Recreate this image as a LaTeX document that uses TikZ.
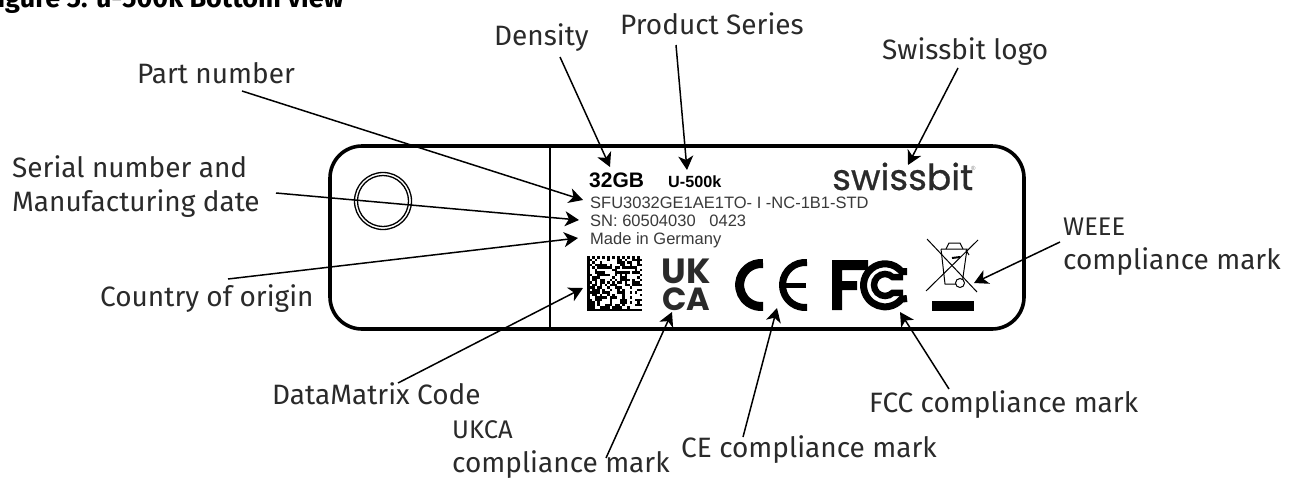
\documentclass[tikz,border=0pt]{standalone}
\usepackage{fontspec}
\setmainfont{Fira Sans}
\newfontfamily\labelfont{Liberation Sans}
\newfontfamily\logofont[FakeBold=0.6]{Poppins}
\newfontfamily\ukcafont{Poppins}
\usetikzlibrary{arrows.meta}
\definecolor{inkdark}{HTML}{2A2A2A}
\definecolor{inkprint}{HTML}{3A3A3A}
\tikzset{
  callout/.style={anchor=base west, inner sep=0pt, text=inkdark, font=\fontsize{28}{32}\selectfont},
  narrowcallout/.style={callout, font=\fontsize{25.5}{30}\selectfont},
  printed/.style={anchor=base west, inner sep=0pt, text=inkprint, font=\labelfont\fontsize{16.5}{19}\selectfont},
  pointer/.style={-{Stealth[length=14pt,width=15pt,inset=4pt]}, line width=1.5pt, black},
  binline/.style={line width=1pt, black}
}
\begin{document}
\begin{tikzpicture}[x=1pt,y=-1pt]
  \useasboundingbox (0,0) rectangle (1298,480);
  \fill[white] (0,0) rectangle (1298,480);
  % Caption
  \node[anchor=base west, inner sep=0pt, font=\bfseries\fontsize{27}{30}\selectfont] (caption) at (-15,7.5) {Figure 5: u-500k Bottom view};
  % Label outline
  \draw[line width=3.6pt, rounded corners=32pt] (330,146) rectangle (1024,329);
  \draw[line width=2pt] (550,146) -- (550,329);
  \draw[line width=1.3pt] (383,201) circle (28.5);
  \draw[line width=1.3pt] (383,201) circle (25.5);
  % Printed text
  \node[printed, font=\labelfont\bfseries\fontsize{21}{24}\selectfont, text=black] (density) at (589,187) {32GB};
  \node[printed, font=\labelfont\bfseries\fontsize{16.2}{19}\selectfont, text=black] (series) at (668,187) {U-500k};
  \node[printed] (partno) at (590,208) {SFU3032GE1AE1TO- I -NC-1B1-STD};
  \node[printed] (serial) at (590,226) {SN: 60504030\ \ \ 0423};
  \node[printed] (origin) at (590,244) {Made in Germany};
  \node[anchor=base west, inner sep=0pt, font=\logofont\fontsize{36}{40}\selectfont, text=inkdark] (logo) at (832,190) {swissbit};
  \node[anchor=base west, inner sep=0pt, font=\labelfont\fontsize{6}{7}\selectfont, text=gray] (regmark) at (971,170) {\textregistered};
  % DataMatrix
  \pgfmathsetseed{4231}
  \foreach \col in {0,...,21}
    \foreach \row in {0,...,21} {
      \pgfmathtruncatemacro\cell{(\col==0 || \row==21) ? 1 : (\row==0 ? mod(\col+1,2) : (\col==21 ? mod(\row,2) : (rnd>0.5 ? 1 : 0)))}
      \ifnum\cell=1
        \fill[black] (587+2.5*\col,256+2.5*\row) rectangle ++(2.5,2.5);
      \fi
    }
  % UKCA mark
  \node[anchor=base, inner sep=0pt, font=\ukcafont\bfseries\fontsize{35}{36}\selectfont, text=inkdark] (ukmark) at (686,283) {UK};
  \node[anchor=base, inner sep=0pt, font=\ukcafont\bfseries\fontsize{32}{34}\selectfont, text=inkdark] (camark) at (686,310) {CA};
  % CE mark
  \draw[line width=9pt] (763,263.6) arc[start angle=-85, end angle=-275, radius=21.5];
  \draw[line width=7pt] (807,262.6) arc[start angle=-85, end angle=-275, radius=22.5];
  \draw[line width=5pt] (785,285) -- (806,285);
  % FCC mark
  \fill[black] (832,260) -- (868,260) -- (868,270) -- (842,270) -- (842,281) -- (857,281) -- (857,290) -- (842,290) -- (842,310) -- (832,310) -- cycle;
  \draw[line width=7pt] (907,271.5) -- (901.5,271.5) arc[start angle=-40, end angle=-320, radius=21.5] -- (907,298.5);
  \draw[line width=6.5pt] (903,277.2) -- (892.8,277.2) arc[start angle=-45, end angle=-315, radius=11] -- (903,292.8);
  % WEEE mark
  \draw[binline] (941,249) -- (967,249) -- (962,284) -- (955,284);
  \draw[binline] (941,249) -- (945,284) -- (955,284);
  \draw[binline] (946,249) -- (949,243) -- (960,243) -- (963,249);
  \draw[binline] (966,250) -- (969,255);
  \draw[line width=2pt] (952,258) -- (960,257);
  \draw[binline, fill=white] (960,283) circle (4.5);
  \draw[binline] (927,239) -- (977,292);
  \draw[binline] (978,240) -- (926,291);
  \fill[black] (932,301) rectangle (974,311);
  % Callouts
  \node[callout] (lbldensity) at (494,45) {Density};
  \node[callout] (lblseries) at (620,34) {Product Series};
  \node[callout] (lbllogo) at (882,59) {Swissbit logo};
  \node[callout] (lblpart) at (137,83) {Part number};
  \node[callout] (lblserial) at (12,177) {Serial number and};
  \node[callout] (lbldate) at (12,211) {Manufacturing date};
  \node[callout] (lblorigin) at (100,306) {Country of origin};
  \node[callout] (lblmatrix) at (272,404) {DataMatrix Code};
  \node[narrowcallout] (lblukca) at (452,438) {UKCA};
  \node[callout] (lblukmark) at (452,472) {compliance mark};
  \node[callout] (lblce) at (681,457) {CE compliance mark};
  \node[callout] (lblfcc) at (869,412) {FCC compliance mark};
  \node[narrowcallout] (lblweee) at (1063,235) {WEEE};
  \node[callout] (lblweeemark) at (1063,269) {compliance mark};
  % Arrow tips
  \coordinate (tipdensity) at (610,167);
  \coordinate (tipseries) at (687,170);
  \coordinate (tiplogo) at (908,165);
  \coordinate (tippart) at (583,200);
  \coordinate (tipserial) at (579,220);
  \coordinate (tiporigin) at (578,238);
  \coordinate (tipmatrix) at (583,288);
  \coordinate (tipukca) at (672,312);
  \coordinate (tipce) at (777,308);
  \coordinate (tipfcc) at (900,312);
  \coordinate (tipweee) at (974,283);
  % Arrows
  \draw[pointer] ([xshift=66pt,yshift=-12pt]lbldensity.base west) -- (tipdensity);
  \draw[pointer] ([xshift=56pt,yshift=-11pt]lblseries.base west) -- (tipseries);
  \draw[pointer] ([xshift=76pt,yshift=-9pt]lbllogo.base west) -- (tiplogo);
  \draw[pointer] ([xshift=105pt,yshift=-8pt]lblpart.base west) -- (tippart);
  \draw[pointer] ([xshift=264pt,yshift=18pt]lbldate.base west) -- (tipserial);
  \draw[pointer] ([xshift=128pt,yshift=27pt]lblorigin.base west) -- (tiporigin);
  \draw[pointer] ([xshift=126pt,yshift=21pt]lblmatrix.base west) -- (tipmatrix);
  \draw[pointer] ([xshift=154pt,yshift=14pt]lblukmark.base west) -- (tipukca);
  \draw[pointer] ([xshift=62pt,yshift=20pt]lblce.base west) -- (tipce);
  \draw[pointer] ([xshift=80pt,yshift=23pt]lblfcc.base west) -- (tipfcc);
  \draw[pointer] ([xshift=-3pt,yshift=-7pt]lblweee.base west) -- (tipweee);
\end{tikzpicture}
\end{document}
